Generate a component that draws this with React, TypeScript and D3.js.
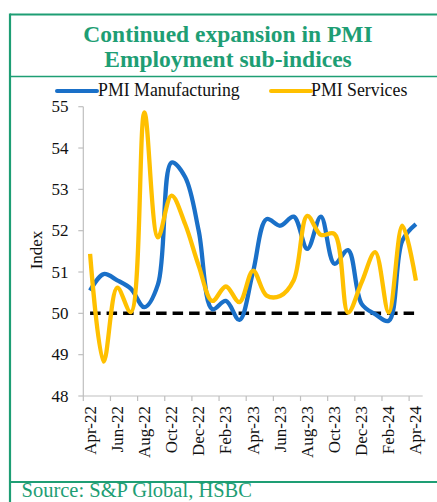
import * as d3 from "d3";
import type { ReactElement } from "react";

const MONTHS = [
  "Apr-22", "May-22", "Jun-22", "Jul-22", "Aug-22", "Sep-22", "Oct-22", "Nov-22", "Dec-22",
  "Jan-23", "Feb-23", "Mar-23", "Apr-23", "May-23", "Jun-23", "Jul-23", "Aug-23", "Sep-23",
  "Oct-23", "Nov-23", "Dec-23", "Jan-24", "Feb-24", "Mar-24", "Apr-24",
];

const MANUFACTURING = [
  50.55, 50.95, 50.8, 50.6, 50.15, 50.7, 53.65, 53.3, 52.0,
  50.1, 50.3, 49.84, 51.0, 52.28, 52.12, 52.34, 51.56, 52.34,
  51.2, 51.53, 50.23, 49.98, 49.82, 51.76, 52.16,
];

const SERVICES = [
  51.44, 48.83, 50.62, 50.03, 54.86, 51.84, 52.85, 52.16, 51.15,
  50.3, 50.65, 50.27, 51.03, 50.43, 50.42, 50.8, 52.36, 51.9,
  51.92, 50.02, 50.75, 51.48, 50.02, 52.12, 50.79,
];

const THRESHOLD = 50;
const Y_TICKS = [48, 49, 50, 51, 52, 53, 54, 55];

const W = 437;
const H = 502;
const PLOT = { left: 83.3, right: 422.7, top: 106.7, bottom: 396 };

const GREEN = "#1e9e74";
const BLUE = "#1a70c8";
const YELLOW = "#ffc000";
const AXIS = "#bfbfbf";
const FONT = "'Liberation Serif', 'Times New Roman', serif";

export default function App(): ReactElement {
  const x = d3.scaleBand<string>().domain(MONTHS).range([PLOT.left, PLOT.right]);
  const y = d3.scaleLinear().domain([48, 55]).range([PLOT.bottom, PLOT.top]);
  const cx = (m: string): number => (x(m) ?? 0) + x.bandwidth() / 2;

  const line = d3
    .line<number>()
    .x((_, i) => cx(MONTHS[i]))
    .y((d) => y(d))
    .curve(d3.curveCatmullRom.alpha(0.5));

  const flat = d3
    .line<string>()
    .x((m) => cx(m))
    .y(() => y(THRESHOLD));

  // tick marks sit between categories, every second one
  const xTicks = MONTHS.filter((_, i) => i % 2 === 0).map((m) => x(m) ?? 0);

  return (
    <svg
      width={W}
      height={H}
      style={{ position: "absolute", left: 0, top: 0, background: "#fff" }}
      fontFamily={FONT}
    >
      {/* frame */}
      <line x1={10} x2={W} y1={14.5} y2={14.5} stroke={GREEN} strokeWidth={2} />
      <line x1={10} x2={10} y1={13.5} y2={H} stroke={GREEN} strokeWidth={2.2} />
      <line x1={10} x2={W} y1={76.5} y2={76.5} stroke={GREEN} strokeWidth={1.5} />
      <line x1={10} x2={W} y1={482} y2={482} stroke={GREEN} strokeWidth={1.8} />

      <text x={228} y={41.5} textAnchor="middle" fill={GREEN} fontSize={23.5} fontWeight="bold">
        Continued expansion in PMI
      </text>
      <text x={228} y={66.5} textAnchor="middle" fill={GREEN} fontSize={23.5} fontWeight="bold">
        Employment sub-indices
      </text>

      {/* legend */}
      <line x1={57} x2={97} y1={91} y2={91} stroke={BLUE} strokeWidth={4} strokeLinecap="round" />
      <text x={98} y={96} fontSize={17.8} fill="#111">PMI Manufacturing</text>
      <line x1={271} x2={311} y1={91} y2={91} stroke={YELLOW} strokeWidth={4} strokeLinecap="round" />
      <text x={311} y={96} fontSize={17.8} fill="#111">PMI Services</text>

      {/* axes */}
      <line x1={PLOT.left} x2={PLOT.left} y1={PLOT.top} y2={PLOT.bottom} stroke={AXIS} strokeWidth={1.2} />
      <line x1={PLOT.left} x2={PLOT.right} y1={PLOT.bottom} y2={PLOT.bottom} stroke={AXIS} strokeWidth={1.2} />
      {Y_TICKS.map((t) => (
        <g key={t}>
          <line x1={PLOT.left - 5} x2={PLOT.left} y1={y(t)} y2={y(t)} stroke={AXIS} strokeWidth={1.2} />
          <text x={68.5} y={y(t) + 5.5} textAnchor="end" fontSize={17} fill="#111">
            {t}
          </text>
        </g>
      ))}
      {xTicks.map((tx, i) => (
        <line key={i} x1={tx} x2={tx} y1={PLOT.bottom} y2={PLOT.bottom + 5} stroke={AXIS} strokeWidth={1.2} />
      ))}
      {MONTHS.filter((_, i) => i % 2 === 0).map((m) => (
        <text
          key={m}
          transform={`translate(${cx(m) + 5.5},${PLOT.bottom + 10}) rotate(-90)`}
          textAnchor="end"
          fontSize={17}
          fill="#111"
        >
          {m}
        </text>
      ))}
      <text
        transform={`translate(41.5,250) rotate(-90)`}
        textAnchor="middle"
        fontSize={17}
        fill="#111"
      >
        Index
      </text>

      {/* series */}
      <path d={flat(MONTHS) ?? ""} fill="none" stroke="#000" strokeWidth={3.5} strokeDasharray="10.5 6" />
      <path d={line(MANUFACTURING) ?? ""} fill="none" stroke={BLUE} strokeWidth={4.3} strokeLinejoin="round" />
      <path d={line(SERVICES) ?? ""} fill="none" stroke={YELLOW} strokeWidth={4.3} strokeLinejoin="round" />

      <text x={21.5} y={497} fontSize={20.5} fill={GREEN}>
        Source: S&amp;P Global, HSBC
      </text>
    </svg>
  );
}
